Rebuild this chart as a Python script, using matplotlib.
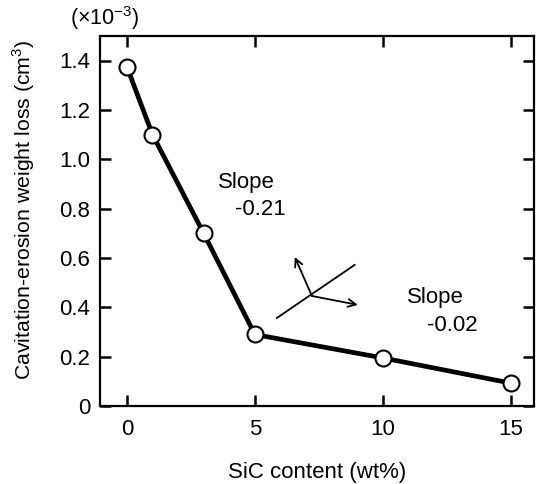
import matplotlib
matplotlib.use('Agg')
import matplotlib.pyplot as plt

plt.rcParams['font.family'] = ['Liberation Sans', 'DejaVu Sans']
plt.rcParams['mathtext.fontset'] = 'custom'
plt.rcParams['mathtext.rm'] = 'Liberation Sans'

# SiC content (wt%) vs. weight loss (x10^-3 cm^3)
sic = [0, 1, 3, 5, 10, 15]
loss = [1.375, 1.10, 0.70, 0.29, 0.195, 0.093]

xticks = [0, 5, 10, 15]
yticks = [0, 0.2, 0.4, 0.6, 0.8, 1.0, 1.2, 1.4]
ylabels = ['0', '0.2', '0.4', '0.6', '0.8', '1.0', '1.2', '1.4']

fig = plt.figure(figsize=(5.39, 4.84), dpi=100)
ax = fig.add_axes([0.1855, 0.161, 0.805, 0.765])

ax.plot(sic, loss, color='black', lw=3.4, marker='o', ms=11.5,
        mfc='white', mec='black', mew=1.5, zorder=3)

ax.set_xlim(-1.05, 15.9)
ax.set_ylim(0, 1.5)
ax.set_xticks(xticks)
ax.set_xticklabels([str(t) for t in xticks])
ax.set_yticks(yticks)
ax.set_yticklabels(ylabels)
ax.tick_params(direction='in', length=8, width=1.8, labelsize=16,
               top=True, right=True)
ax.tick_params(axis='x', pad=9)
ax.tick_params(axis='y', pad=7)
for s in ax.spines.values():
    s.set_linewidth(1.6)

ax.set_xlabel('SiC content (wt%)', fontsize=16, labelpad=16)
ax.set_ylabel('Cavitation-erosion weight loss (cm$^\\mathrm{3}$)', fontsize=15.3)
ax.yaxis.set_label_coords(-0.145, 0.53)
fig.text(0.258, 0.963, '(×10$^\\mathrm{-3}$)', fontsize=15.5, ha='right', va='center')

# slope annotations
ax.text(3.55, 0.905, 'Slope', fontsize=16, va='center')
ax.text(4.22, 0.795, '-0.21', fontsize=16, va='center')
ax.text(10.94, 0.438, 'Slope', fontsize=16, va='center')
ax.text(11.72, 0.325, '-0.02', fontsize=16, va='center')

# reference sketch: line with two arrows
ax.plot([5.86, 8.9], [0.357, 0.572], color='black', lw=1.3)
ax.annotate('', xy=(6.56, 0.604), xytext=(7.23, 0.446),
            arrowprops=dict(arrowstyle='->', lw=1.3, color='black',
                            mutation_scale=14, shrinkA=0, shrinkB=0))
ax.annotate('', xy=(9.02, 0.41), xytext=(7.23, 0.446),
            arrowprops=dict(arrowstyle='->', lw=1.3, color='black',
                            mutation_scale=14, shrinkA=0, shrinkB=0))

fig.savefig('out.png', dpi=100)
